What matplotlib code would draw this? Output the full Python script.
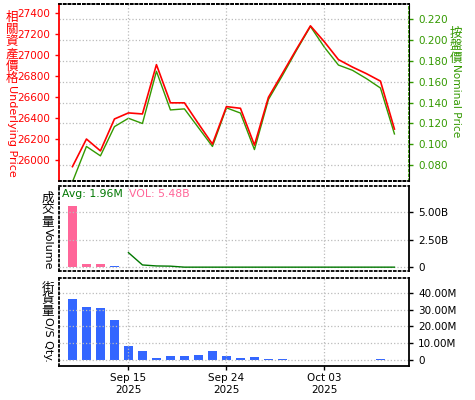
import matplotlib
matplotlib.use('Agg')
import matplotlib.pyplot as plt
import numpy as np

# trading days shown on the x axis (index positions)
days = ['Sep 09', 'Sep 10', 'Sep 11', 'Sep 12', 'Sep 15', 'Sep 16', 'Sep 17', 'Sep 18',
        'Sep 19', 'Sep 22', 'Sep 23', 'Sep 24', 'Sep 25', 'Sep 26', 'Sep 29', 'Sep 30',
        'Oct 01', 'Oct 02', 'Oct 03', 'Oct 06', 'Oct 07', 'Oct 08', 'Oct 09', 'Oct 10']
tick_days = ['Sep 15', 'Sep 24', 'Oct 03']
tick_text = ['Sep 15\n2025', 'Sep 24\n2025', 'Oct 03\n2025']

# underlying price (left axis) and nominal price (right axis)
underlying = [25939, 26202, 26089, 26393, 26451, 26441, 26911, 26547, 26547, 26348,
              26154, 26511, 26495, 26144, 26600, 26828, 27058, 27281, 27128, 26959,
              26888, 26825, 26754, 26297]
nominal = [0.064, 0.098, 0.089, 0.117, 0.125, 0.120, 0.170, 0.133, 0.134, 0.116,
           0.098, 0.135, 0.130, 0.095, 0.143, 0.166, 0.190, 0.213, 0.193, 0.176,
           0.171, 0.163, 0.154, 0.110]

# volume panel (billions)
vol_up_days = ['Sep 09', 'Sep 10', 'Sep 11']
vol_up = [5.60, 0.33, 0.33]
vol_down_days = ['Sep 12']
vol_down = [0.10]
avg_days = days[4:]
avg_vol = [1.33, 0.21, 0.12, 0.10, 0.01, 0.01, 0.01, 0.01, 0.01, 0.01, 0.01, 0.01,
           0.01, 0.01, 0.01, 0.01, 0.01, 0.01, 0.01, 0.01]

# outstanding quantity (millions)
os_days = days[:16] + ['Oct 09']
os_qty = [36.4, 31.5, 31.0, 23.9, 8.4, 5.4, 1.2, 2.4, 2.4, 3.0, 5.4, 2.4, 1.1, 1.6,
          0.4, 0.4, 0.4]

RED = '#ff0000'
GREEN = '#339900'
PINK = '#ff6699'
BLUE = '#3366ff'
DKGREEN = '#007700'
GRID = '#bbbbbb'

W, H = 475, 400
fig = plt.figure(figsize=(W / 100, H / 100), dpi=100)
plt.rcParams['font.family'] = ['DejaVu Sans']


def panel(top, bottom):
    return fig.add_axes([59 / W, 1 - bottom / H, 350 / W, (bottom - top) / H])


def idx(labels):
    return [days.index(d) for d in labels]


x = np.arange(len(days))
tick_pos = idx(tick_days)
fs = 7.5

# ---- top panel: prices
ax1 = panel(4, 181)
ax2 = ax1.twinx()
ax1.plot(x, underlying, color=RED, lw=1.2, zorder=3)
ax2.plot(x, nominal, color=GREEN, lw=1.0, zorder=2)
ax1.set_zorder(ax2.get_zorder() + 1)
ax1.patch.set_visible(False)
ax1.set_ylim(25802, 27489)
ax1.set_yticks(np.arange(26000, 27401, 200))
ax2.set_ylim(0.0649, 0.2345)
ax2.set_yticks(np.arange(0.08, 0.2201, 0.02))
ax2.set_yticklabels(['%.3f' % v for v in np.arange(0.08, 0.2201, 0.02)])
ax1.tick_params(axis='y', colors=RED, labelsize=fs, length=3, width=1)
ax2.tick_params(axis='y', colors=GREEN, labelsize=fs, length=3, width=1)
ax2.grid(axis='y', color=GRID, ls=':', lw=0.9)
ax1.spines['left'].set_color(RED)
ax1.spines['left'].set_linewidth(1.3)
for a in (ax1, ax2):
    a.spines['top'].set_linestyle(':')
    a.spines['bottom'].set_linestyle(':')
    a.spines['top'].set_linewidth(1.3)
    a.spines['bottom'].set_linewidth(1.3)
ax2.spines['right'].set_color(GREEN)
ax2.spines['right'].set_linestyle(':')
ax2.spines['right'].set_linewidth(1.3)
ax2.spines['left'].set_visible(False)

# ---- middle panel: volume
ax3 = panel(186, 271)
ax3.bar(idx(vol_up_days), vol_up, width=0.65, color=PINK)
ax3.bar(idx(vol_down_days), vol_down, width=0.65, color=BLUE)
ax3.plot(idx(avg_days), avg_vol, color=DKGREEN, lw=1.0)
ax3.set_ylim(-0.34, 7.39)
ax3.yaxis.tick_right()
ax3.set_yticks([0, 2.5, 5.0])
ax3.set_yticklabels(['0', '2.50B', '5.00B'])
ax3.grid(axis='y', color=GRID, ls=':', lw=0.9)
ax3.text(0.01, 0.97, 'Avg: 1.96M', color=DKGREEN, fontsize=7.8, transform=ax3.transAxes,
         va='top', ha='left')
ax3.text(0.2, 0.97, 'VOL: 5.48B', color=PINK, fontsize=7.8, transform=ax3.transAxes,
         va='top', ha='left')

# ---- bottom panel: outstanding quantity
ax4 = panel(278, 366)
ax4.bar(idx(os_days), os_qty, width=0.65, color=BLUE)
ax4.set_ylim(-3.6, 48.8)
ax4.yaxis.tick_right()
ax4.set_yticks([0, 10, 20, 30, 40])
ax4.set_yticklabels(['0', '10.00M', '20.00M', '30.00M', '40.00M'])
ax4.grid(axis='y', color=GRID, ls=':', lw=0.9)

for a in (ax3, ax4):
    a.tick_params(axis='y', labelsize=fs, length=3, width=1)
    a.spines['left'].set_linestyle(':')
    a.spines['top'].set_linestyle(':')
    for s in ('left', 'top', 'right', 'bottom'):
        a.spines[s].set_linewidth(1.3)
ax3.spines['bottom'].set_linestyle(':')

for a in (ax1, ax3, ax4):
    a.set_xlim(-0.96, 24.04)
    a.set_xticks(tick_pos)
    a.grid(axis='x', color=GRID, ls=':', lw=0.9)
    a.tick_params(axis='x', labelbottom=False, length=0)
ax2.set_xlim(-0.96, 24.04)
ax4.set_xticklabels(tick_text)
ax4.tick_params(axis='x', labelbottom=True, labelsize=fs, length=3, width=1, pad=2)


# vertical axis captions: CJK upright, latin rotated
def vlabel(xp, yp, step, cjk, latin, color, size=8, csize=9):
    for i, ch in enumerate(cjk):
        fig.text(xp / W, 1 - (yp + i * step) / H, ch, color=color, ha='center', va='center',
                 fontsize=csize, family=['Noto Sans CJK TC', 'DejaVu Sans'])
    fig.text(xp / W, 1 - (yp + len(cjk) * step - step / 2) / H, latin, color=color,
             rotation=270, ha='center', va='top', fontsize=size)


vlabel(12, 17, 12.3, '相關資產價格', 'Underlying Price', RED)
vlabel(456, 33, 12.5, '按盤價', 'Nominal Price', GREEN, size=7.6)
vlabel(48, 198, 12, '成交量', 'Volume', 'black')
vlabel(48, 288, 11.5, '街貨量', 'O/S Qty.', 'black')

fig.savefig('out.png', dpi=100)
